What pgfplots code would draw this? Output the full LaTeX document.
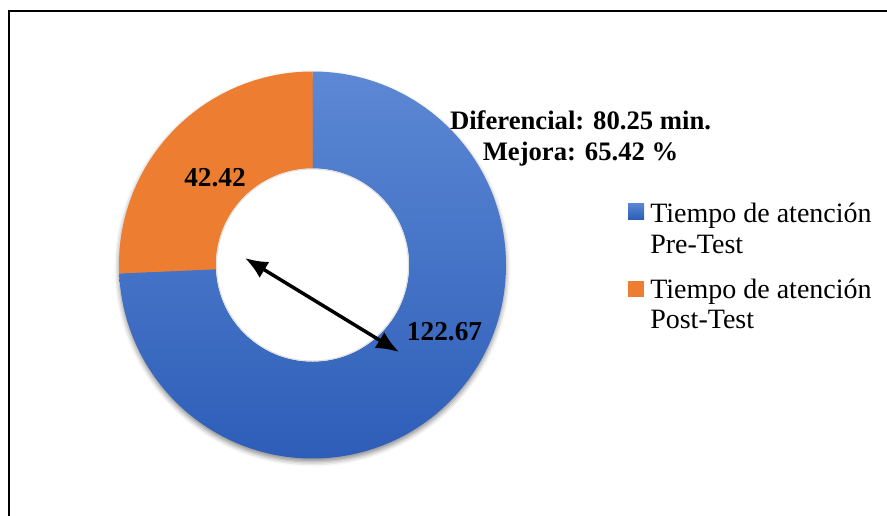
\documentclass[border=0pt]{standalone}
\usepackage{pgfplots}
\pgfplotsset{compat=1.18}
\usepackage{pgfplotstable}
\usepackage{fontspec}
\setmainfont{Liberation Serif}
\usetikzlibrary{calc,shadows.blur,arrows.meta}

\definecolor{azulA}{RGB}{92,136,212}
\definecolor{azulB}{RGB}{45,93,184}
\definecolor{naranja}{RGB}{237,125,49}

% Tiempo de atención (min)
\pgfplotstableread{
serie valor
pre   122.67
post  42.42
}\tiempos

\begin{document}
\begin{tikzpicture}[x=0.75pt,y=0.75pt]
\useasboundingbox (0,0) rectangle (887,515);
\clip (0,0) rectangle (887,515);
% marco
\draw[line width=1.7pt] (8.7,-10) -- (8.7,504.2) -- (900,504.2);

\pgfplotstablegetelem{0}{valor}\of\tiempos \let\vpre\pgfplotsretval
\pgfplotstablegetelem{1}{valor}\of\tiempos \let\vpost\pgfplotsretval
\pgfmathsetmacro\total{\vpre+\vpost}
\pgfmathsetmacro\aend{90+360*\vpost/\total}
\pgfmathsetmacro\astart{\aend-360}
\pgfmathsetmacro\Ro{193.5*0.75}
\pgfmathsetmacro\Ri{96.5*0.75}

\begin{axis}[at={(312.5,250)}, anchor=origin, hide axis,
  disabledatascaling, x=0.75pt, y=0.75pt,
  xmin=-200, xmax=600, ymin=-200, ymax=200, clip=false]
  % sombra del anillo
  \path[blur shadow={shadow xshift=0pt, shadow yshift=-2.5pt,
        shadow blur radius=3.5pt, shadow opacity=45}]
    (axis cs:0,0) circle[radius=\Ro pt];
  % Pre-Test
  \path[top color=azulA, bottom color=azulB]
    (axis cs:0,0) ++(\astart:\Ro pt)
    arc[start angle=\astart, end angle=90, radius=\Ro pt]
    -- ($(axis cs:0,0)+(90:\Ri pt)$)
    arc[start angle=90, end angle=\astart, radius=\Ri pt] -- cycle;
  % Post-Test
  \path[fill=naranja]
    (axis cs:0,0) ++(90:\Ro pt)
    arc[start angle=90, end angle=\aend, radius=\Ro pt]
    -- ($(axis cs:0,0)+(\aend:\Ri pt)$)
    arc[start angle=\aend, end angle=90, radius=\Ri pt] -- cycle;
  % hueco central
  \fill[white] (axis cs:0,0) circle[radius=\Ri pt];
  \draw[black!12, line width=0.8pt] (axis cs:0,0) circle[radius=\Ri pt-0.4pt];

  % etiquetas de valor
  \node[font=\fontsize{20.5}{24}\selectfont\bfseries]
    at (axis cs:-97.5,87) {\vpost};
  \node[font=\fontsize{20.5}{24}\selectfont\bfseries]
    at (axis cs:132,-67) {\vpre};

  % flecha
  \draw[black, line width=2.6pt,
    {Latex[length=17pt,width=14pt,fill=black]}-{Latex[length=17pt,width=14pt,fill=black]}]
    (axis cs:-67.5,7) -- (axis cs:86.5,-87);

  % diferencia
  \node[anchor=base, font=\fontsize{20}{24}\selectfont\bfseries]
    at (axis cs:268,136) {Diferencial: 80.25 min.};
  \node[anchor=base, font=\fontsize{20}{24}\selectfont\bfseries]
    at (axis cs:268,105) {Mejora: 65.42 \%};

  % leyenda
  \path[top color=azulA, bottom color=azulB]
    (axis cs:315.5,46) rectangle (axis cs:331.5,62);
  \path[fill=naranja]
    (axis cs:315.5,-32) rectangle (axis cs:331.5,-16);
  \begin{scope}[every node/.style={anchor=base west, inner sep=0pt,
      font=\fontsize{21}{24}\selectfont}]
    \node at (axis cs:337.5,43) {Tiempo de atención};
    \node at (axis cs:337.5,12) {Pre-Test};
    \node at (axis cs:337.5,-33) {Tiempo de atención};
    \node at (axis cs:337.5,-63) {Post-Test};
  \end{scope}
\end{axis}
\end{tikzpicture}
\end{document}
